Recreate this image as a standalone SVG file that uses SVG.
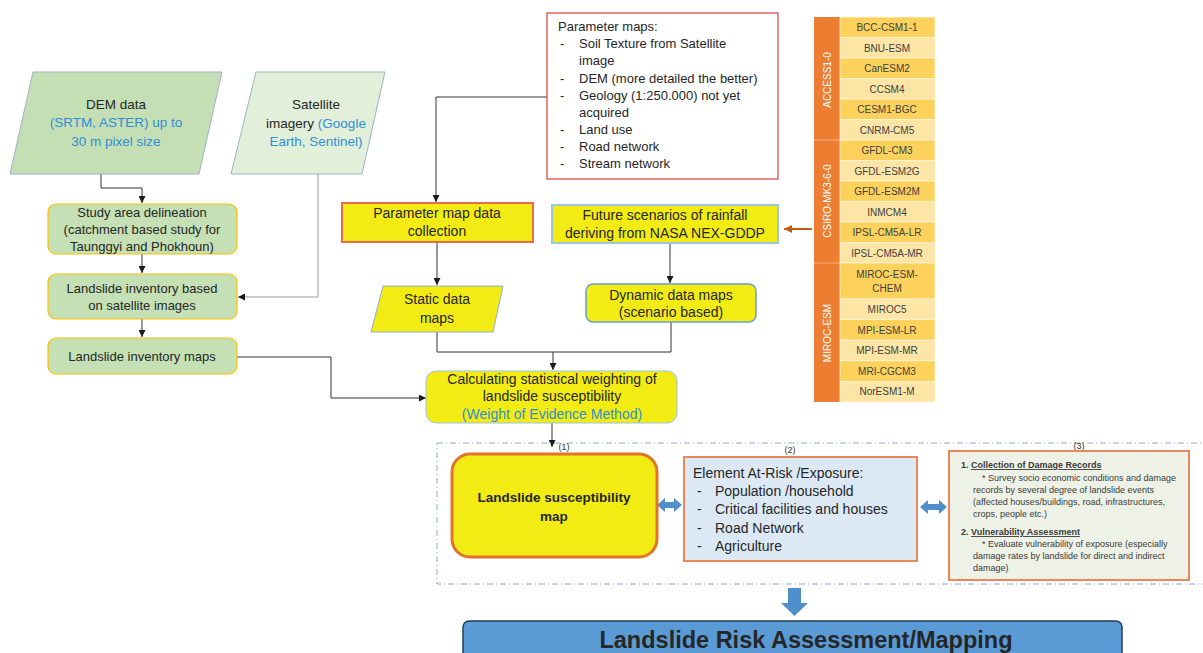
<svg xmlns="http://www.w3.org/2000/svg" width="1203" height="653" viewBox="0 0 1203 653">
<defs>
<marker id="ah" viewBox="0 0 10 10" refX="10" refY="5" markerWidth="7" markerHeight="7" markerUnits="userSpaceOnUse" orient="auto"><path d="M0,0 L10,5 L0,10 z" fill="#1a1a1a"/></marker>
<marker id="aho" viewBox="0 0 10 10" refX="10" refY="5" markerWidth="8" markerHeight="8" markerUnits="userSpaceOnUse" orient="auto"><path d="M0,0 L10,5 L0,10 z" fill="#c55a11"/></marker>
<style>
text{font-family:"Liberation Sans",Arial,sans-serif;fill:#262626}
.c{text-anchor:middle}
.t13{font-size:13px}
.t14{font-size:14px}
.blue{fill:#2f8ed6}
.ln{fill:none;stroke:#333;stroke-width:1}
.green{fill:#c5e0b4;stroke:#ffc000;stroke-width:1.2}
.yel{fill:#f2ec14}
.cell{font-size:10px;fill:#404040;text-anchor:middle}
.dk{fill:#fcd25c}
.lt{fill:#fde5a6}
.grp{font-size:10px;fill:#fff;text-anchor:middle}
.sm{font-size:9px;fill:#3a3a3a}
.lbl{font-size:9px;fill:#333;text-anchor:middle}
</style>
</defs>
<rect width="1203" height="653" fill="#fff"/>

<g id="connectors">
<polyline class="ln" points="101,174 101,188 142,188 142,203" marker-end="url(#ah)"/>
<line class="ln" x1="142" y1="254" x2="142" y2="273" marker-end="url(#ah)"/>
<line class="ln" x1="142" y1="319" x2="142" y2="337" marker-end="url(#ah)"/>
<polyline fill="none" stroke="#9a9a9a" stroke-width="1" points="318,174 318,297 238,297" marker-end="url(#ah)"/>
<polyline class="ln" stroke="#555" points="237,357 331,357 331,398 426,398" marker-end="url(#ah)"/>
<polyline class="ln" stroke="#666" points="547,97 436,97 436,202" marker-end="url(#ah)"/>
<line class="ln" x1="437" y1="242" x2="437" y2="285" marker-end="url(#ah)"/>
<line class="ln" x1="670" y1="243" x2="670" y2="283" marker-end="url(#ah)"/>
<polyline class="ln" points="437,332 437,352 671,352 671,322"/>
<line class="ln" x1="553" y1="352" x2="553" y2="370" marker-end="url(#ah)"/>
<line class="ln" x1="552" y1="423" x2="552" y2="447" marker-end="url(#ah)"/>
<line stroke="#c55a11" stroke-width="2" x1="812" y1="229" x2="784" y2="229" marker-end="url(#aho)"/>
<path d="M657,505 L665,498 L665,502 L674,502 L674,498 L682,505 L674,512 L674,508 L665,508 L665,512 Z" fill="#4f8fcb"/>
<path d="M920,507 L928,500 L928,504 L939,504 L939,500 L947,507 L939,514 L939,510 L928,510 L928,514 Z" fill="#4f8fcb"/>
<path d="M788,588 L801,588 L801,603 L808,603 L794.5,616 L781,603 L788,603 Z" fill="#4f8fcb"/>
</g>

<g id="dem">
<polygon points="33,72 222,72 199,174 10,174" fill="#c5dfb4" stroke="#9db3c9" stroke-width="1"/>
<text class="c" x="116" y="109" font-size="13.5">DEM data</text>
<text class="c blue" x="116" y="127" font-size="13.5">(SRTM, ASTER) up to</text>
<text class="c blue" x="116" y="146" font-size="13.5">30 m pixel size</text>
</g>

<g id="satellite">
<polygon points="256,72 385,72 362,174 231,174" fill="#e2efd9" stroke="#9db3c9" stroke-width="1"/>
<text class="c" x="316" y="109" font-size="13.5">Satellite</text>
<text class="c" x="316" y="128" font-size="13.5">imagery <tspan class="blue">(Google</tspan></text>
<text class="c blue" x="316" y="146" font-size="13.5">Earth, Sentinel)</text>
</g>

<g id="study-area">
<rect class="green" x="48" y="204" width="189" height="50" rx="8"/>
<text class="c t13" x="142" y="217">Study area delineation</text>
<text class="c t13" x="142" y="234">(catchment based study for</text>
<text class="c t13" x="142" y="251">Taunggyi and Phokhoun)</text>
</g>

<g id="inventory">
<rect class="green" x="48" y="274" width="189" height="45" rx="8"/>
<text class="c t13" x="142" y="293">Landslide inventory based</text>
<text class="c t13" x="142" y="310">on satellite images</text>
</g>

<g id="inventory-maps">
<rect class="green" x="48" y="338" width="189" height="36" rx="8"/>
<text class="c t13" x="142" y="361">Landslide inventory maps</text>
</g>

<g id="parameter-maps">
<rect x="547" y="13" width="231" height="166" fill="#fff" stroke="#e03c3c" stroke-width="1.2"/>
<text class="t13" x="558" y="31">Parameter maps:</text>
<text class="t13" x="560" y="48">-</text><text class="t13" x="579" y="48">Soil Texture from Satellite</text>
<text class="t13" x="579" y="65">image</text>
<text class="t13" x="560" y="83">-</text><text class="t13" x="579" y="83">DEM (more detailed the better)</text>
<text class="t13" x="560" y="100">-</text><text class="t13" x="579" y="100">Geology (1:250.000) not yet</text>
<text class="t13" x="579" y="117">acquired</text>
<text class="t13" x="560" y="134">-</text><text class="t13" x="579" y="134">Land use</text>
<text class="t13" x="560" y="151">-</text><text class="t13" x="579" y="151">Road network</text>
<text class="t13" x="560" y="168">-</text><text class="t13" x="579" y="168">Stream network</text>
</g>

<g id="models">
<rect x="814" y="17" width="26" height="385" fill="#ed7d31"/>
<line x1="814" y1="140" x2="840" y2="140" stroke="#f6b183" stroke-width="1"/>
<line x1="814" y1="263" x2="840" y2="263" stroke="#f6b183" stroke-width="1"/>
<text class="grp" transform="translate(831,80) rotate(-90)">ACCESS1-0</text>
<text class="grp" transform="translate(831,201) rotate(-90)">CSIRO-MK3-6-0</text>
<text class="grp" transform="translate(831,333) rotate(-90)">MIROC-ESM</text>
<g stroke="#fff5d8" stroke-width="0.8">
<rect class="dk" x="840" y="17" width="95" height="20.5"/>
<rect class="lt" x="840" y="37.5" width="95" height="20.5"/>
<rect class="dk" x="840" y="58" width="95" height="20.5"/>
<rect class="lt" x="840" y="78.5" width="95" height="20.5"/>
<rect class="dk" x="840" y="99" width="95" height="20.5"/>
<rect class="lt" x="840" y="119.5" width="95" height="20.5"/>
<rect class="dk" x="840" y="140" width="95" height="20.5"/>
<rect class="lt" x="840" y="160.5" width="95" height="20.5"/>
<rect class="dk" x="840" y="181" width="95" height="20.5"/>
<rect class="lt" x="840" y="201.5" width="95" height="20.5"/>
<rect class="dk" x="840" y="222" width="95" height="20.5"/>
<rect class="lt" x="840" y="242.5" width="95" height="20.5"/>
<rect class="dk" x="840" y="263" width="95" height="36"/>
<rect class="lt" x="840" y="299" width="95" height="20.6"/>
<rect class="dk" x="840" y="319.6" width="95" height="20.6"/>
<rect class="lt" x="840" y="340.2" width="95" height="20.6"/>
<rect class="dk" x="840" y="360.8" width="95" height="20.6"/>
<rect class="lt" x="840" y="381.4" width="95" height="20.6"/>
</g>
<text class="cell" x="887" y="31">BCC-CSM1-1</text>
<text class="cell" x="887" y="51.5">BNU-ESM</text>
<text class="cell" x="887" y="72">CanESM2</text>
<text class="cell" x="887" y="92.5">CCSM4</text>
<text class="cell" x="887" y="113">CESM1-BGC</text>
<text class="cell" x="887" y="133.5">CNRM-CM5</text>
<text class="cell" x="887" y="154">GFDL-CM3</text>
<text class="cell" x="887" y="174.5">GFDL-ESM2G</text>
<text class="cell" x="887" y="195">GFDL-ESM2M</text>
<text class="cell" x="887" y="215.5">INMCM4</text>
<text class="cell" x="887" y="236">IPSL-CM5A-LR</text>
<text class="cell" x="887" y="256.5">IPSL-CM5A-MR</text>
<text class="cell" x="887" y="278">MIROC-ESM-</text>
<text class="cell" x="887" y="292">CHEM</text>
<text class="cell" x="887" y="313">MIROC5</text>
<text class="cell" x="887" y="333.5">MPI-ESM-LR</text>
<text class="cell" x="887" y="354">MPI-ESM-MR</text>
<text class="cell" x="887" y="374.5">MRI-CGCM3</text>
<text class="cell" x="887" y="395">NorESM1-M</text>
</g>

<g id="param-collection">
<rect class="yel" x="342" y="203" width="191" height="39" stroke="#ec6a4c" stroke-width="2"/>
<text class="c t14" x="437" y="218">Parameter map data</text>
<text class="c t14" x="437" y="236">collection</text>
</g>

<g id="future-scenarios">
<rect class="yel" x="552" y="205" width="226" height="38" stroke="#9dc3e6" stroke-width="2"/>
<text class="c t14" x="665" y="220">Future scenarios of rainfall</text>
<text class="c t14" x="665" y="238">deriving from NASA NEX-GDDP</text>
</g>

<g id="static-maps">
<polygon class="yel" points="383,286 503,286 493,332 371,332" stroke="#8fb0cc" stroke-width="1"/>
<text class="c t14" x="437" y="304">Static data</text>
<text class="c t14" x="437" y="323">maps</text>
</g>

<g id="dynamic-maps">
<rect class="yel" x="586" y="284" width="170" height="38" rx="7" stroke="#6a9fd0" stroke-width="1.5"/>
<text class="c t14" x="671" y="300">Dynamic data maps</text>
<text class="c t14" x="671" y="317">(scenario based)</text>
</g>

<g id="calculating">
<rect class="yel" x="426" y="371" width="251" height="52" rx="10" stroke="#9dc3e6" stroke-width="1"/>
<text class="c t14" x="552" y="384">Calculating statistical weighting of</text>
<text class="c t14" x="552" y="401">landslide susceptibility</text>
<text class="c t14 blue" x="552" y="419" fill="#2e9ad0">(Weight of Evidence Method)</text>
</g>

<g id="risk-frame">
<rect x="437" y="443" width="770" height="141" fill="none" stroke="#8faad0" stroke-width="1" stroke-dasharray="6 3 1 3"/>
<text class="lbl" x="564" y="450">(1)</text>
<text class="lbl" x="790" y="453">(2)</text>
<text class="lbl" x="1079" y="449">(3)</text>
</g>

<g id="susceptibility-map">
<rect x="452" y="454" width="205" height="103" rx="18" fill="#f2ec14" stroke="#e2732c" stroke-width="3"/>
<text class="c" x="554" y="502" font-size="13.5" font-weight="bold">Landslide susceptibility</text>
<text class="c" x="554" y="521" font-size="13.5" font-weight="bold">map</text>
</g>

<g id="element-at-risk">
<rect x="684" y="457" width="233" height="104" fill="#dce9f5" stroke="#e8875c" stroke-width="2"/>
<text class="t14" x="693" y="478">Element At-Risk /Exposure:</text>
<text class="t14" x="697" y="496">-</text><text class="t14" x="715" y="496">Population /household</text>
<text class="t14" x="697" y="514">-</text><text class="t14" x="715" y="514">Critical facilities and houses</text>
<text class="t14" x="697" y="533">-</text><text class="t14" x="715" y="533">Road Network</text>
<text class="t14" x="697" y="551">-</text><text class="t14" x="715" y="551">Agriculture</text>
</g>

<g id="damage-vulnerability">
<rect x="949" y="451" width="240" height="129" fill="#eef2e6" stroke="#e8875c" stroke-width="2"/>
<text class="sm" x="961" y="468" font-weight="bold">1. <tspan text-decoration="underline">Collection of Damage Records</tspan></text>
<text class="sm" x="982" y="481">* Survey socio economic conditions and damage</text>
<text class="sm" x="973" y="493">records by several degree of landslide events</text>
<text class="sm" x="973" y="505">(affected houses/buildings, road, infrastructures,</text>
<text class="sm" x="973" y="517">crops, people etc.)</text>
<text class="sm" x="961" y="535" font-weight="bold">2. <tspan text-decoration="underline">Vulnerability Assessment</tspan></text>
<text class="sm" x="982" y="547">* Evaluate vulnerability of exposure  (especially</text>
<text class="sm" x="973" y="559">damage rates by landslide for direct and indirect</text>
<text class="sm" x="973" y="571">damage)</text>
</g>

<g id="risk-assessment">
<rect x="463" y="621" width="659" height="45" rx="6" fill="#5b9bd5" stroke="#233d5c" stroke-width="1.5"/>
<text class="c" x="806" y="648" font-size="23.5" font-weight="bold" fill="#1a1a1a">Landslide Risk Assessment/Mapping</text>
</g>
</svg>
